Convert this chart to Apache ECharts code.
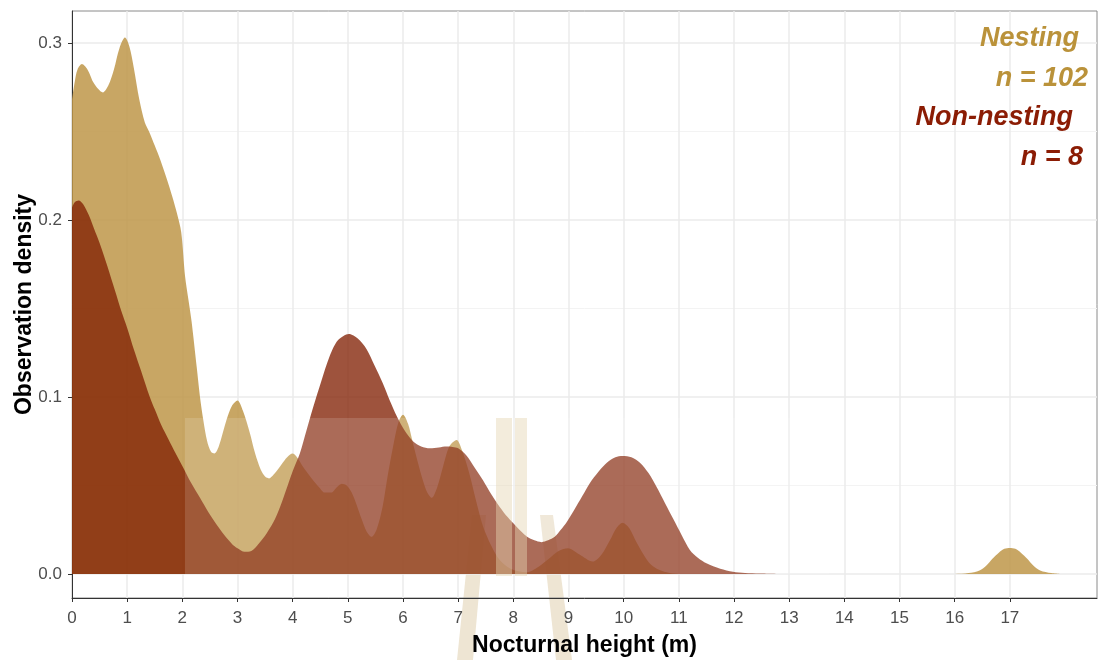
<!DOCTYPE html>
<html>
<head>
<meta charset="utf-8">
<script src="https://cdn.jsdelivr.net/npm/echarts@6/dist/echarts.min.js"></script>
<style>
html,body{margin:0;padding:0;background:#fff;}
#chart{width:1100px;height:660px;}
</style>
</head>
<body>
<div id="chart"></div>
<script>
// Nesting density curve (n = 102)
const nestX = [0, 0.05, 0.1, 0.18, 0.28, 0.4, 0.56, 0.66, 0.76, 0.86, 0.96, 1.04, 1.12, 1.22, 1.32, 1.41, 1.5, 1.6, 1.72, 1.82, 1.9, 1.98, 2.05, 2.11, 2.17, 2.26, 2.32, 2.38, 2.45, 2.52, 2.58, 2.66, 2.8, 2.9, 3.0, 3.1, 3.22, 3.32, 3.42, 3.5, 3.57, 3.68, 3.8, 3.9, 4.0, 4.1, 4.2, 4.37, 4.48, 4.58, 4.7, 4.8, 4.89, 4.98, 5.07, 5.16, 5.25, 5.34, 5.43, 5.52, 5.63, 5.72, 5.82, 5.92, 6.0, 6.09, 6.18, 6.27, 6.36, 6.44, 6.52, 6.62, 6.72, 6.84, 6.97, 7.08, 7.2, 7.32, 7.45, 7.6, 7.75, 7.95, 8.24, 8.45, 8.66, 8.82, 8.99, 9.2, 9.44, 9.6, 9.75, 9.87, 9.98, 10.1, 10.24, 10.36, 10.47, 10.6, 10.78, 11.0, 12.0, 13.0, 14.0, 15.0, 16.0, 16.25, 16.45, 16.58, 16.68, 16.8, 16.9, 17.0, 17.1, 17.2, 17.32, 17.42, 17.55, 17.75, 17.9];
const nestY = [0.268, 0.278, 0.285, 0.288, 0.285, 0.277, 0.272, 0.276, 0.285, 0.297, 0.303, 0.298, 0.286, 0.268, 0.255, 0.249, 0.242, 0.234, 0.223, 0.213, 0.204, 0.193, 0.168, 0.155, 0.142, 0.117, 0.1, 0.087, 0.075, 0.069, 0.068, 0.072, 0.087, 0.095, 0.098, 0.092, 0.08, 0.068, 0.059, 0.055, 0.054, 0.057, 0.062, 0.066, 0.068, 0.065, 0.06, 0.053, 0.049, 0.046, 0.046, 0.049, 0.051, 0.05, 0.046, 0.039, 0.031, 0.024, 0.021, 0.025, 0.038, 0.055, 0.072, 0.086, 0.09, 0.085, 0.074, 0.063, 0.053, 0.046, 0.043, 0.049, 0.06, 0.072, 0.0757, 0.069, 0.057, 0.042, 0.027, 0.016, 0.008, 0.003, 0.001, 0.004, 0.009, 0.013, 0.0145, 0.011, 0.007, 0.011, 0.019, 0.026, 0.029, 0.026, 0.0175, 0.011, 0.006, 0.003, 0.001, 0, 0, 0, 0, 0, 0, 0.0005, 0.002, 0.005, 0.0085, 0.012, 0.0142, 0.0147, 0.0142, 0.012, 0.0085, 0.005, 0.002, 0.0005, 0];
// Non-nesting density curve (n = 8)
const nonX = [0, 0.05, 0.12, 0.2, 0.3, 0.4, 0.5, 0.64, 0.78, 0.9, 1.0, 1.12, 1.25, 1.41, 1.5, 1.62, 1.75, 1.88, 2.0, 2.15, 2.32, 2.47, 2.62, 2.76, 2.9, 3.0, 3.13, 3.25, 3.38, 3.53, 3.68, 3.82, 4.0, 4.13, 4.25, 4.37, 4.52, 4.67, 4.82, 5.02, 5.18, 5.34, 5.48, 5.63, 5.76, 5.89, 6.03, 6.18, 6.33, 6.49, 6.65, 6.79, 6.9, 7.0, 7.15, 7.3, 7.45, 7.6, 7.75, 7.9, 8.05, 8.25, 8.38, 8.51, 8.63, 8.75, 8.86, 8.96, 9.1, 9.25, 9.38, 9.55, 9.7, 9.85, 9.98, 10.14, 10.29, 10.45, 10.6, 10.75, 10.9, 11.05, 11.2, 11.35, 11.5, 11.75, 11.98, 12.2, 12.46, 12.9];
const nonY = [0.207, 0.21, 0.211, 0.209, 0.203, 0.195, 0.187, 0.174, 0.16, 0.148, 0.139, 0.127, 0.115, 0.1, 0.093, 0.084, 0.076, 0.068, 0.061, 0.052, 0.043, 0.035, 0.028, 0.022, 0.017, 0.0145, 0.0125, 0.013, 0.017, 0.023, 0.031, 0.042, 0.058, 0.068, 0.081, 0.094, 0.109, 0.123, 0.132, 0.1356, 0.133, 0.127, 0.118, 0.108, 0.098, 0.089, 0.081, 0.075, 0.072, 0.071, 0.0715, 0.072, 0.0718, 0.071, 0.067, 0.06, 0.053, 0.045, 0.038, 0.032, 0.027, 0.021, 0.019, 0.018, 0.019, 0.021, 0.025, 0.029, 0.036, 0.044, 0.051, 0.058, 0.063, 0.066, 0.0667, 0.066, 0.063, 0.057, 0.049, 0.04, 0.031, 0.022, 0.0136, 0.009, 0.006, 0.003, 0.0013, 0.0006, 0.0003, 0];
const xTicks = [0,1,2,3,4,5,6,7,8,9,10,11,12,13,14,15,16,17];
const yTicks = [0, 0.1, 0.2, 0.3];
const yMinor = [0.05, 0.15, 0.25];
const labels = [
  {text: 'Nesting', color: '#BA923A'},
  {text: 'n = 102', color: '#BA923A'},
  {text: 'Non-nesting', color: '#8B1C04'},
  {text: 'n = 8', color: '#8B1C04'}
];

const zip = (xs, ys) => xs.map((x, i) => [x, ys[i]]);
const FONT = 'Liberation Sans, Arial, Helvetica, sans-serif';

const chart = echarts.init(document.getElementById('chart'), null, {renderer: 'canvas'});

const annoRight = [1079, 1088, 1073, 1083];
const annoY = [39, 79, 118, 158];

chart.setOption({
  animation: false,
  backgroundColor: '#ffffff',
  grid: {left: 72, right: 3, top: 11, bottom: 62, show: true, borderColor: '#8a8a8a', borderWidth: 1,
    backgroundColor: 'transparent', containLabel: false, outerBoundsMode: 'none'},
  xAxis: {
    type: 'value', min: 0, max: 18.58,
    name: 'Nocturnal height (m)', nameLocation: 'middle', nameGap: 36, nameMoveOverlap: false,
    nameTextStyle: {fontFamily: FONT, fontSize: 23, fontWeight: 'bold', color: '#000'},
    axisLine: {show: true, onZero: false, lineStyle: {color: '#333', width: 1}},
    axisTick: {show: true, length: 4, customValues: xTicks, lineStyle: {color: '#333'}},
    axisLabel: {customValues: xTicks, margin: 12, fontFamily: FONT, fontSize: 17, color: '#4D4D4D'},
    splitLine: {show: true, lineStyle: {color: '#EBEBEB', width: 1.5}}
  },
  yAxis: [{
    type: 'value', min: -0.01356, max: 0.318,
    name: 'Observation density', nameLocation: 'middle', nameGap: 36, nameMoveOverlap: false,
    nameTextStyle: {fontFamily: FONT, fontSize: 23, fontWeight: 'bold', color: '#000'},
    axisLine: {show: true, onZero: false, lineStyle: {color: '#333', width: 1}},
    axisTick: {show: true, length: 4, customValues: yTicks, lineStyle: {color: '#333'}},
    axisLabel: {customValues: yTicks, margin: 10, fontFamily: FONT, fontSize: 17, color: '#4D4D4D',
      formatter: v => v.toFixed(1)},
    splitLine: {show: true, lineStyle: {color: '#EBEBEB', width: 1.5}}
  }, {
    type: 'value', min: -0.01356, max: 0.318, position: 'left',
    axisLine: {show: false}, axisLabel: {show: false},
    axisTick: {show: false, customValues: yMinor},
    splitLine: {show: true, lineStyle: {color: '#F3F3F3', width: 1}}
  }],
  series: [{
    name: 'Nesting', type: 'line', yAxisIndex: 0, z: 2,
    data: zip(nestX, nestY), smooth: 0.3, symbol: 'none',
    lineStyle: {width: 0, opacity: 0},
    areaStyle: {color: 'rgba(190,151,73,0.85)', opacity: 1}
  }, {
    name: 'Non-nesting', type: 'line', yAxisIndex: 0, z: 3,
    data: zip(nonX, nonY), smooth: 0.3, symbol: 'none',
    lineStyle: {width: 0, opacity: 0},
    areaStyle: {color: 'rgba(127,29,0,0.76)', opacity: 1}
  }],
  graphic: [
    // watermark legs (under everything)
    {type: 'polygon', z: -1, silent: true, shape: {points: [[472,515],[486,515],[473,660],[457,660]]}, style: {fill: '#EEE5D3'}},
    {type: 'polygon', z: -1, silent: true, shape: {points: [[540,515],[553,515],[572,660],[556,660]]}, style: {fill: '#EEE5D3'}},
    // watermark light band and upper strokes
    {type: 'rect', z: 100, silent: true, shape: {x: 185, y: 418, width: 644, height: 156}, style: {fill: 'rgba(255,255,255,0.14)'}},
    {type: 'rect', z: 101, silent: true, shape: {x: 496, y: 418, width: 16, height: 158}, style: {fill: 'rgba(228,212,178,0.45)'}},
    {type: 'rect', z: 101, silent: true, shape: {x: 515, y: 418, width: 12, height: 158}, style: {fill: 'rgba(228,212,178,0.45)'}}
  ].concat(labels.map((l, i) => ({
    type: 'text', z: 110, silent: true,
    style: {
      text: l.text, x: annoRight[i], y: annoY[i], align: 'right', verticalAlign: 'middle',
      fill: l.color, font: 'italic bold 27px ' + FONT
    }
  })))
});
</script>
</body>
</html>
